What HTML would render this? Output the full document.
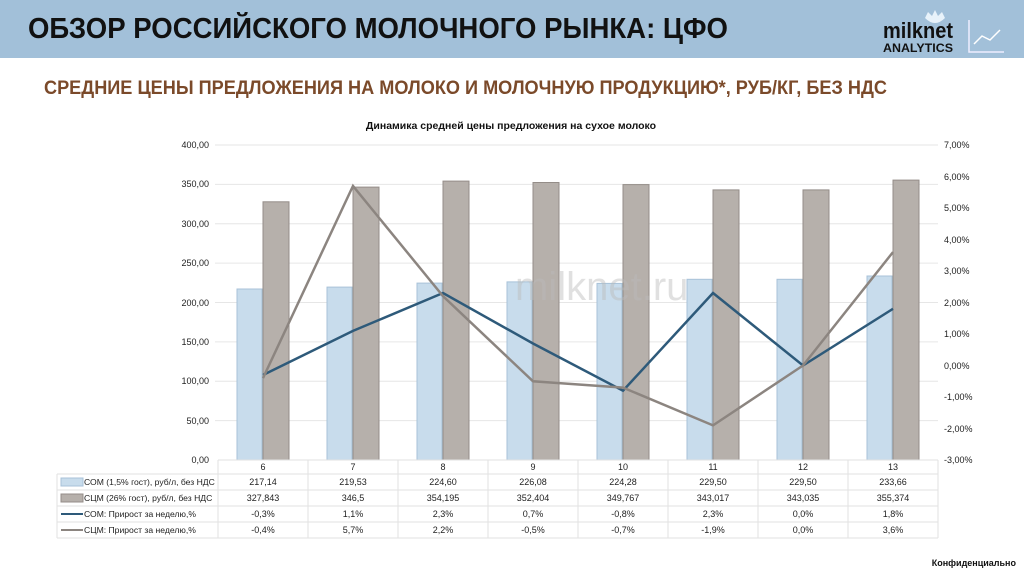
<!DOCTYPE html>
<html><head><meta charset="utf-8"><style>
html,body{margin:0;padding:0;background:#fff;}
body{width:1024px;height:576px;overflow:hidden;font-family:"Liberation Sans",sans-serif;}
</style></head><body>
<svg width="1024" height="576" xmlns="http://www.w3.org/2000/svg" font-family="Liberation Sans, sans-serif">
<rect x="0" y="0" width="1024" height="58" fill="#a2c0d9"/>
<text x="28" y="38" font-size="29" font-weight="bold" fill="#111" textLength="700" lengthAdjust="spacingAndGlyphs">ОБЗОР РОССИЙСКОГО МОЛОЧНОГО РЫНКА: ЦФО</text>
<text x="883" y="38" font-size="22" font-weight="bold" fill="#111" textLength="70" lengthAdjust="spacingAndGlyphs">milknet</text>
<text x="883" y="52" font-size="12" font-weight="bold" fill="#111" textLength="70" lengthAdjust="spacingAndGlyphs">ANALYTICS</text>
<path d="M925 18 Q935 28 945 18 L942 12 L938 16 L935 10 L932 16 L928 12 Z" fill="#e8f2fa"/>
<path d="M969 20 V52 H1004" stroke="#eef" stroke-width="1.5" fill="none"/>
<path d="M974 44 L982 36 L990 40 L1000 30" stroke="#fff" stroke-width="1.5" fill="none"/>
<text x="44" y="94" font-size="19" font-weight="bold" fill="#7b4a2a" textLength="843" lengthAdjust="spacingAndGlyphs">СРЕДНИЕ ЦЕНЫ ПРЕДЛОЖЕНИЯ НА МОЛОКО И МОЛОЧНУЮ ПРОДУКЦИЮ*, РУБ/КГ, БЕЗ НДС</text>
<text x="511" y="129" font-size="10.5" font-weight="bold" fill="#111" text-anchor="middle">Динамика средней цены предложения на сухое молоко</text>
<g stroke="#e6e6e6" stroke-width="1">
<line x1="215" y1="145" x2="938" y2="145"/><line x1="215" y1="184.4" x2="938" y2="184.4"/>
<line x1="215" y1="223.8" x2="938" y2="223.8"/><line x1="215" y1="263.1" x2="938" y2="263.1"/>
<line x1="215" y1="302.5" x2="938" y2="302.5"/><line x1="215" y1="341.9" x2="938" y2="341.9"/>
<line x1="215" y1="381.3" x2="938" y2="381.3"/><line x1="215" y1="420.6" x2="938" y2="420.6"/>
</g>
<g font-size="9" fill="#222" text-anchor="end">
<text x="209" y="148">400,00</text><text x="209" y="187">350,00</text><text x="209" y="227">300,00</text>
<text x="209" y="266">250,00</text><text x="209" y="306">200,00</text><text x="209" y="345">150,00</text>
<text x="209" y="384">100,00</text><text x="209" y="424">50,00</text><text x="209" y="463">0,00</text>
</g>
<g font-size="9" fill="#222">
<text x="944" y="148">7,00%</text><text x="944" y="180">6,00%</text><text x="944" y="211">5,00%</text>
<text x="944" y="243">4,00%</text><text x="944" y="274">3,00%</text><text x="944" y="306">2,00%</text>
<text x="944" y="337">1,00%</text><text x="944" y="369">0,00%</text><text x="944" y="400">-1,00%</text>
<text x="944" y="432">-2,00%</text><text x="944" y="463">-3,00%</text>
</g>
<g fill="#c8dcec" stroke="#a8c2d8" stroke-width="1">
<rect x="237" y="289" width="25" height="171"/><rect x="327" y="287.1" width="25" height="172.9"/>
<rect x="417" y="283.1" width="25" height="176.9"/><rect x="507" y="281.9" width="25" height="178.1"/>
<rect x="597" y="283.4" width="25" height="176.6"/><rect x="687" y="279.3" width="25" height="180.7"/>
<rect x="777" y="279.3" width="25" height="180.7"/><rect x="867" y="276" width="25" height="184"/>
</g>
<g fill="#b6b0ab" stroke="#948d88" stroke-width="1">
<rect x="263" y="201.8" width="26" height="258.2"/><rect x="353" y="187.1" width="26" height="272.9"/>
<rect x="443" y="181.1" width="26" height="278.9"/><rect x="533" y="182.5" width="26" height="277.5"/>
<rect x="623" y="184.6" width="26" height="275.4"/><rect x="713" y="189.9" width="26" height="270.1"/>
<rect x="803" y="189.9" width="26" height="270.1"/><rect x="893" y="180.1" width="26" height="279.9"/>
</g>
<text x="515" y="300" font-size="40" fill="#bbb" fill-opacity="0.45">milknet.ru</text>
<polyline points="263,375 353,330.9 443,293 533,343.5 623,390.7 713,293 803,365.5 893,308.8" fill="none" stroke="#2e5a7a" stroke-width="2.5"/>
<polyline points="263,378.1 353,185.9 443,296.2 533,381.3 623,387.6 713,425.4 803,365.5 893,252.1" fill="none" stroke="#8c8580" stroke-width="2.5"/>
<g stroke="#e2e2e2" stroke-width="1" fill="none">
<line x1="218" y1="460" x2="938" y2="460"/>
<line x1="57" y1="474" x2="938" y2="474"/><line x1="57" y1="490" x2="938" y2="490"/>
<line x1="57" y1="506" x2="938" y2="506"/><line x1="57" y1="522" x2="938" y2="522"/>
<line x1="57" y1="538" x2="938" y2="538"/>
<line x1="57" y1="474" x2="57" y2="538"/>
<line x1="218" y1="460" x2="218" y2="538"/><line x1="308" y1="460" x2="308" y2="538"/>
<line x1="398" y1="460" x2="398" y2="538"/><line x1="488" y1="460" x2="488" y2="538"/>
<line x1="578" y1="460" x2="578" y2="538"/><line x1="668" y1="460" x2="668" y2="538"/>
<line x1="758" y1="460" x2="758" y2="538"/><line x1="848" y1="460" x2="848" y2="538"/>
<line x1="938" y1="460" x2="938" y2="538"/>
</g>
<rect x="61" y="478" width="22" height="8" fill="#c8dcec" stroke="#a8c2d8"/>
<rect x="61" y="494" width="22" height="8" fill="#b6b0ab" stroke="#948d88"/>
<line x1="61" y1="514" x2="83" y2="514" stroke="#2e5a7a" stroke-width="2"/>
<line x1="61" y1="530" x2="83" y2="530" stroke="#8c8580" stroke-width="2"/>
<g font-size="8.6" fill="#222">
<text x="84" y="485">СОМ (1,5% гост), руб/л, без НДС</text>
<text x="84" y="501">СЦМ (26% гост), руб/л, без НДС</text>
<text x="84" y="517">СОМ:  Прирост за неделю,%</text>
<text x="84" y="533">СЦМ: Прирост за неделю,%</text>
</g>
<g font-size="9" fill="#222" text-anchor="middle">
<text x="263" y="470">6</text><text x="353" y="470">7</text><text x="443" y="470">8</text><text x="533" y="470">9</text>
<text x="623" y="470">10</text><text x="713" y="470">11</text><text x="803" y="470">12</text><text x="893" y="470">13</text>
<text x="263" y="485">217,14</text><text x="353" y="485">219,53</text><text x="443" y="485">224,60</text><text x="533" y="485">226,08</text>
<text x="623" y="485">224,28</text><text x="713" y="485">229,50</text><text x="803" y="485">229,50</text><text x="893" y="485">233,66</text>
<text x="263" y="501">327,843</text><text x="353" y="501">346,5</text><text x="443" y="501">354,195</text><text x="533" y="501">352,404</text>
<text x="623" y="501">349,767</text><text x="713" y="501">343,017</text><text x="803" y="501">343,035</text><text x="893" y="501">355,374</text>
<text x="263" y="517">-0,3%</text><text x="353" y="517">1,1%</text><text x="443" y="517">2,3%</text><text x="533" y="517">0,7%</text>
<text x="623" y="517">-0,8%</text><text x="713" y="517">2,3%</text><text x="803" y="517">0,0%</text><text x="893" y="517">1,8%</text>
<text x="263" y="533">-0,4%</text><text x="353" y="533">5,7%</text><text x="443" y="533">2,2%</text><text x="533" y="533">-0,5%</text>
<text x="623" y="533">-0,7%</text><text x="713" y="533">-1,9%</text><text x="803" y="533">0,0%</text><text x="893" y="533">3,6%</text>
</g>
<text x="1016" y="566" font-size="9" font-weight="bold" fill="#111" text-anchor="end">Конфиденциально</text>
</svg>
</body></html>
